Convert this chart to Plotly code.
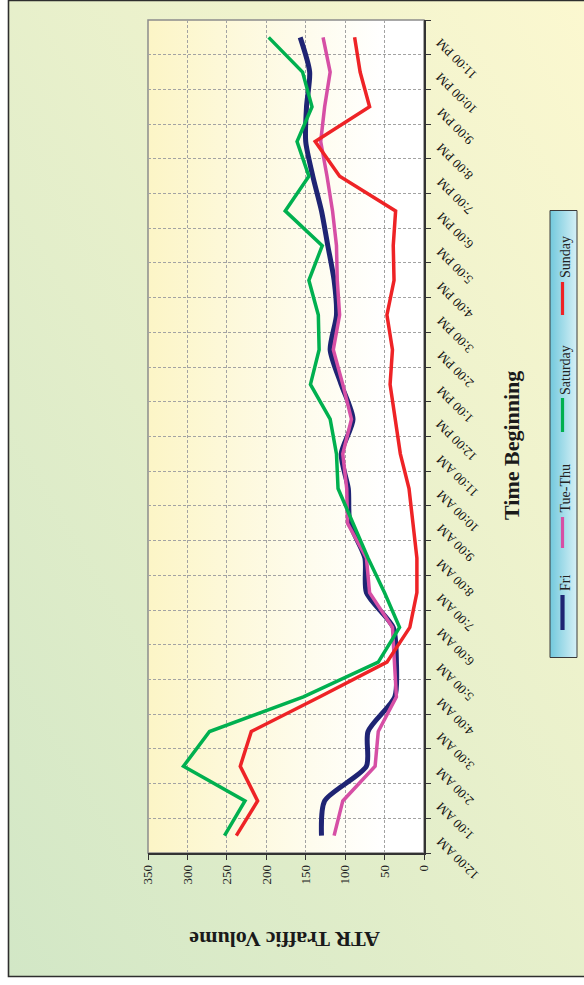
import base64
import plotly.graph_objects as go

# ---------------- data ----------------
hours = ["12:00 AM", "1:00 AM", "2:00 AM", "3:00 AM", "4:00 AM", "5:00 AM",
         "6:00 AM", "7:00 AM", "8:00 AM", "9:00 AM", "10:00 AM", "11:00 AM",
         "12:00 PM", "1:00 PM", "2:00 PM", "3:00 PM", "4:00 PM", "5:00 PM",
         "6:00 PM", "7:00 PM", "8:00 PM", "9:00 PM", "10:00 PM", "11:00 PM"]

fri = [130, 126, 73, 71, 37, 35, 39, 73, 75, 94, 96, 105,
       90, 105, 119, 111, 114, 122, 130, 141, 150, 149, 145, 157]
tue_thu = [114, 103, 62, 58, 35, 37, 40, 69, 73, 97, 98, 103,
           92, 103, 115, 107, 110, 111, 116, 123, 131, 126, 119, 128]
saturday = [253, 227, 305, 272, 153, 58, 31, 50, 71, 90, 109, 111,
            119, 144, 133, 134, 146, 129, 176, 146, 161, 142, 154, 197]
sunday = [238, 211, 233, 219, 132, 47, 18, 9, 9, 14, 19, 30,
          37, 43, 40, 47, 38, 39, 36, 107, 138, 69, 81, 88]

series_names = ["Fri", "Tue-Thu", "Saturday", "Sunday"]
series_values = [fri, tue_thu, saturday, sunday]
series_colors = ["#1f2473", "#d64fa5", "#00b04f", "#ee2326"]
series_widths = [5, 3.5, 3.5, 3.5]
series_shapes = ["spline", "linear", "linear", "linear"]

x_ticks = [0, 50, 100, 150, 200, 250, 300, 350]
x_title = "ATR Traffic Volume"
y_title = "Time Beginning"

# ---------------- geometry helpers ----------------
FW, FH = 584, 985
L, R, T, B = 148, 424, 20, 853
W, H = R - L, B - T


def fx(px):
    return (px - L) / W


def fy(py):
    return (B - py) / H


def grad_uri(stops, x1, y1, x2, y2):
    st = "".join('<stop offset="%s" stop-color="%s"/>' % (o, c) for o, c in stops)
    svg = ('<svg xmlns="http://www.w3.org/2000/svg" width="100" height="100" '
           'viewBox="0 0 100 100" preserveAspectRatio="none">'
           '<defs><linearGradient id="g" x1="%s" y1="%s" x2="%s" y2="%s">%s'
           '</linearGradient></defs><rect x="0" y="0" width="100" height="100" '
           'fill="url(#g)"/></svg>') % (x1, y1, x2, y2, st)
    return "data:image/svg+xml;base64," + base64.b64encode(svg.encode()).decode()


fig = go.Figure()

for name, vals, col, wd, shp in zip(series_names, series_values, series_colors,
                                     series_widths, series_shapes):
    fig.add_trace(go.Scatter(
        x=vals, y=hours, mode="lines", name=name,
        line=dict(color=col, width=wd, shape=shp, smoothing=0.7 if shp == "spline" else None),
        showlegend=False, hoverinfo="skip"))

images = [
    # outer background
    dict(source=grad_uri([(0, "#d2e7c6"), (1, "#fcf8d0")], 0, 1, 1, 0),
         xref="paper", yref="paper", x=fx(8.5), y=fy(0.5),
         sizex=(FW + 10 - 8.5) / W, sizey=976 / H,
         xanchor="left", yanchor="top", sizing="stretch", layer="below"),
    # plot area
    dict(source=grad_uri([(0, "#fcf5c6"), (0.85, "#ffffff"), (1, "#ffffff")], 0, 0, 1, 0),
         xref="paper", yref="paper", x=0, y=1, sizex=1, sizey=1,
         xanchor="left", yanchor="top", sizing="stretch", layer="below"),
    # legend box
    dict(source=grad_uri([(0, "#72c9dd"), (1, "#d6f0f6")], 0, 0, 1, 0),
         xref="paper", yref="paper", x=fx(550), y=fy(210.5),
         sizex=27 / W, sizey=447 / H,
         xanchor="left", yanchor="top", sizing="stretch", layer="below"),
]

shapes = [
    dict(type="rect", xref="paper", yref="paper", x0=fx(8.5), x1=fx(FW + 10),
         y0=fy(976.5), y1=fy(0.5), line=dict(color="#2e2e2e", width=1.6),
         fillcolor="rgba(0,0,0,0)", layer="below"),
    dict(type="rect", xref="paper", yref="paper", x0=0, x1=1, y0=0, y1=1,
         line=dict(color="#8c8c8c", width=1.5), fillcolor="rgba(0,0,0,0)", layer="below"),
    dict(type="rect", xref="paper", yref="paper", x0=fx(550), x1=fx(577),
         y0=fy(657.5), y1=fy(210.5), line=dict(color="#3a3a3a", width=1),
         fillcolor="rgba(0,0,0,0)", layer="below"),
]

annotations = [
    dict(text="<b>" + x_title + "</b>", xref="paper", yref="paper",
         x=fx(284.5), y=fy(939), textangle=180, showarrow=False,
         xanchor="center", yanchor="middle",
         font=dict(family="Liberation Serif", size=22, color="#1a1a1a")),
    dict(text="<b>" + y_title + "</b>", xref="paper", yref="paper",
         x=fx(512), y=fy(446), textangle=-90, showarrow=False,
         xanchor="center", yanchor="middle",
         font=dict(family="Liberation Serif", size=22, color="#1a1a1a")),
]

# rotated time labels placed at each category of the y axis
for h in hours:
    annotations.append(dict(text=h, xref="paper", yref="y", x=fx(430), y=h,
                            textangle=-135, showarrow=False,
                            xanchor="left", yanchor="top", yshift=5,
                            font=dict(family="Liberation Serif", size=13, color="#111111")))

leg_line_y = [(595, 630), (517, 548), (398, 432), (282, 315)]
leg_text_bottom = [593, 515, 397, 280]
for name, col, wd, (ya, yb), tb in zip(series_names, series_colors, series_widths,
                                        leg_line_y, leg_text_bottom):
    shapes.append(dict(type="line", xref="paper", yref="paper",
                       x0=fx(562.5), x1=fx(562.5), y0=fy(yb), y1=fy(ya),
                       line=dict(color=col, width=wd - 0.8 if wd > 4 else 3.2),
                       layer="above"))
    annotations.append(dict(text=name, xref="paper", yref="paper",
                            x=fx(565), y=fy(tb), textangle=-90, showarrow=False,
                            xanchor="center", yanchor="bottom",
                            font=dict(family="Liberation Serif", size=14, color="#222222")))

fig.update_layout(
    width=FW, height=FH,
    margin=dict(l=L, r=FW - R, t=T, b=FH - B, pad=0),
    paper_bgcolor="#ffffff", plot_bgcolor="rgba(0,0,0,0)",
    images=images, shapes=shapes, annotations=annotations,
    showlegend=False,
    xaxis=dict(range=[350, 0], tickvals=x_ticks, ticks="outside", ticklen=5,
               tickcolor="#333333", tickwidth=1.2,
               showline=True, linecolor="#333333", linewidth=1.5, mirror=False,
               showgrid=True, gridcolor="#a3a3a3", griddash="3px,2px", gridwidth=1,
               zeroline=False, tickangle=-90,
               tickfont=dict(family="Liberation Serif", size=13, color="#222222")),
    yaxis=dict(type="category", categoryorder="array", categoryarray=hours,
               range=[-0.5, 23.5], side="right", tickson="boundaries",
               ticks="outside", ticklen=5, tickcolor="#333333", tickwidth=1.2,
               showline=True, linecolor="#333333", linewidth=1.5, mirror=False,
               showgrid=True, gridcolor="#a3a3a3", griddash="3px,2px", gridwidth=1,
               zeroline=False, showticklabels=False),
)

fig.write_html("out.html", config={"displayModeBar": False},
               post_script="document.body.style.margin='0';document.body.style.overflow='hidden';")
